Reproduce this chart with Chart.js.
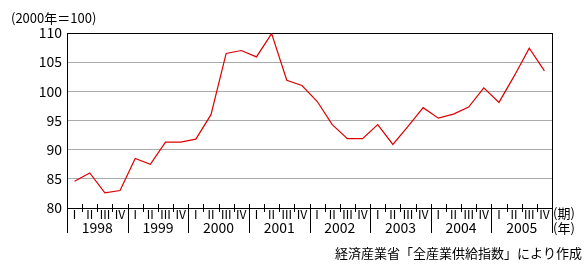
<!DOCTYPE html>
<html>
<head>
<meta charset="utf-8">
<script src="https://cdn.jsdelivr.net/npm/chart.js@4/dist/chart.umd.min.js"></script>
<style>
html,body{margin:0;padding:0;background:#fff;}
#wrap{width:588px;height:274px;position:relative;}
</style>
</head>
<body>
<div id="wrap"><canvas id="c" width="588" height="274"></canvas></div>
<script>
const years = ['1998','1999','2000','2001','2002','2003','2004','2005'];
const quarters = ['Ⅰ','Ⅱ','Ⅲ','Ⅳ'];
const values = [
  84.6, 86.0, 82.6, 83.0,
  88.5, 87.5, 91.3, 91.3,
  91.8, 96.0, 106.5, 107.0,
  105.9, 109.9, 101.9, 101.0,
  98.3, 94.3, 91.9, 91.9,
  94.3, 90.9, 94.0, 97.2,
  95.4, 96.1, 97.3, 100.6,
  98.1, 102.6, 107.4, 103.5
];
const yTicks = [80, 85, 90, 95, 100, 105, 110];
const titleText = '(2000年＝100)';
const periodUnit = '(期)';
const yearUnit = '(年)';
const sourceText = '経済産業省「全産業供給指数」により作成';

const categories = [];
years.forEach(y => quarters.forEach(q => categories.push(y + ' ' + q)));

const FONT = '"Noto Sans CJK JP", "DejaVu Sans", sans-serif';

const decor = {
  id: 'decor',
  afterDraw(chart) {
    const ctx = chart.ctx;
    const a = chart.chartArea;
    const xs = chart.scales.x;
    const n = categories.length;
    const w = (a.right - a.left) / n;
    const lowY = a.bottom + 25;
    ctx.save();
    ctx.strokeStyle = '#000';
    ctx.lineWidth = 1;
    ctx.beginPath();
    ctx.moveTo(Math.round(a.right) + 0.5, a.top);
    ctx.lineTo(Math.round(a.right) + 0.5, lowY);
    ctx.moveTo(Math.round(a.left) + 0.5, a.bottom);
    ctx.lineTo(Math.round(a.left) + 0.5, lowY);
    for (let i = 1; i < n; i++) {
      const x = Math.round(a.left + i * w) + 0.5;
      ctx.moveTo(x, a.bottom - 4);
      ctx.lineTo(x, (i % 4 === 0) ? lowY : a.bottom + 4);
    }
    ctx.stroke();
    ctx.fillStyle = '#000';
    ctx.textBaseline = 'middle';
    ctx.textAlign = 'center';
    ctx.font = '12px ' + FONT;
    for (let i = 0; i < n; i++) {
      ctx.fillText(quarters[i % 4], xs.getPixelForValue(i), a.bottom + 6);
    }
    ctx.font = '14px ' + FONT;
    years.forEach((y, k) => {
      const x = (xs.getPixelForValue(k * 4) + xs.getPixelForValue(k * 4 + 3)) / 2;
      ctx.fillText(y, x, a.bottom + 20);
    });
    ctx.font = '13px ' + FONT;
    ctx.textAlign = 'left';
    ctx.fillText(periodUnit, a.right + 1, a.bottom + 5);
    ctx.fillText(yearUnit, a.right + 1, a.bottom + 20);
    ctx.fillText(titleText, 11, 18);
    ctx.textAlign = 'right';
    ctx.fillText(sourceText, 582, 253);
    ctx.restore();
  }
};

new Chart(document.getElementById('c'), {
  type: 'line',
  data: {
    labels: categories,
    datasets: [{
      data: values,
      borderColor: '#dd0000',
      borderWidth: 1.2,
      pointRadius: 0,
      tension: 0,
      fill: false
    }]
  },
  options: {
    responsive: false,
    animation: false,
    layout: { padding: { left: 0, top: 33, right: 36, bottom: 66 } },
    plugins: { legend: { display: false }, tooltip: { enabled: false } },
    scales: {
      x: {
        type: 'category',
        offset: true,
        display: false
      },
      y: {
        min: 80, max: 110,
        afterFit(s) { s.width = 67; },
        afterBuildTicks(s) { s.ticks = yTicks.map(v => ({ value: v })); },
        ticks: {
          padding: 5,
          color: '#000',
          font: { family: FONT, size: 14 }
        },
        grid: {
          drawTicks: false,
          color: ctx => (ctx.tick && (ctx.tick.value === 110 || ctx.tick.value === 80)) ? '#000' : '#aaaaaa',
          lineWidth: 1
        },
        border: { color: '#000', width: 1 }
      }
    }
  },
  plugins: [decor]
});
</script>
</body>
</html>
